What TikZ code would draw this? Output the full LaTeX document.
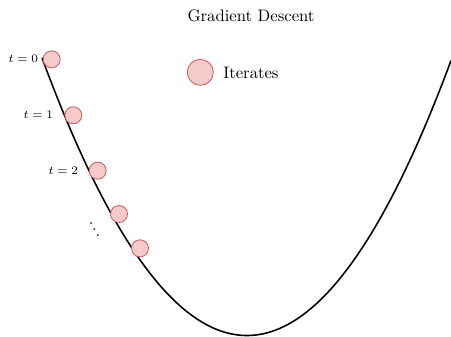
\documentclass[tikz,border=0pt]{standalone}
\begin{document}
\begin{tikzpicture}[x=0.6pt,y=-0.6pt,
  iter/.style={circle,draw={rgb,255:red,205;green,92;blue,92},fill={rgb,255:red,247;green,202;blue,202},line width=0.5pt,inner sep=0pt,minimum size=10.2pt},
  biter/.style={iter,minimum size=15.6pt},
  tlabel/.style={font=\scriptsize,anchor=east,inner sep=1pt}]
\useasboundingbox (0,0) rectangle (451,336);
\begin{scope}
\clip (0,0) rectangle (451,336);
\draw[line width=0.95pt,domain=42:451,samples=120,smooth] plot (\x,{335.5-0.0066*(\x-247)*(\x-247)});
\end{scope}
\node (title) at (251,16) {Gradient Descent};
\node[biter] (leg) at (200.3,72.3) {};
\node[anchor=west,inner sep=0pt] (legtext) at (223,72.5) {Iterates};
\node[iter] (c0) at (51.7,59.3) {};
\node[iter] (c1) at (73.3,115.3) {};
\node[iter] (c2) at (97.7,170.7) {};
\node[iter] (c3) at (119,214) {};
\node[iter] (c4) at (140,248.3) {};
\node[tlabel] (l0) at (40,59) {$t=0$};
\node[tlabel] (l1) at (55,115) {$t=1$};
\node[tlabel] (l2) at (80,170.5) {$t=2$};
\node[rotate=30,inner sep=0pt] (dd) at (92,225) {$\vdots$};
\end{tikzpicture}
\end{document}
